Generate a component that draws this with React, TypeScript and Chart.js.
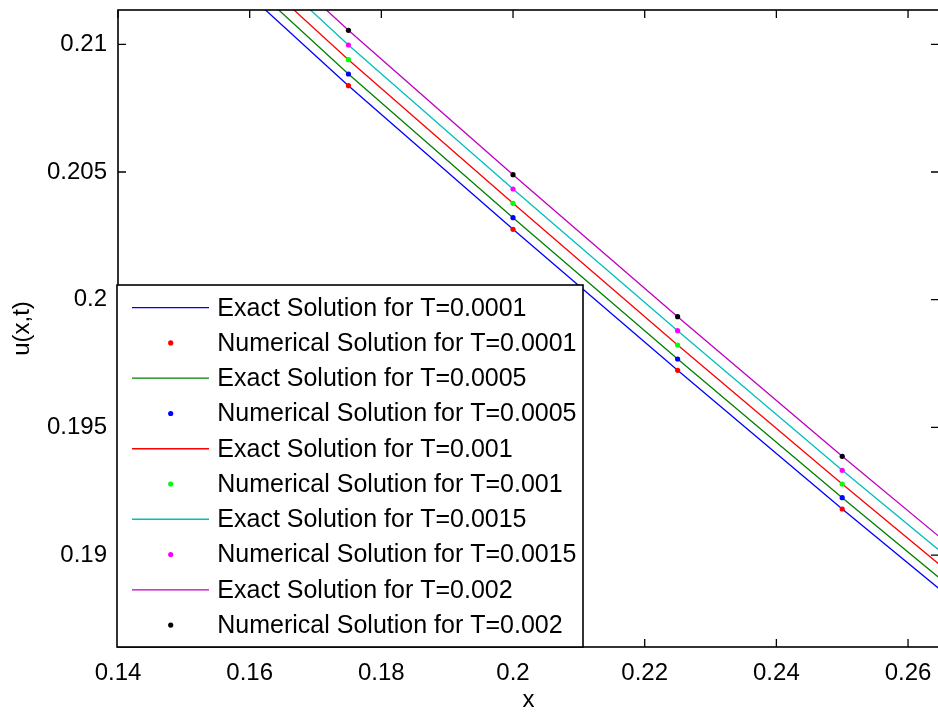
import React, { useEffect, useRef } from "react";
import { Chart, registerables } from "chart.js";

Chart.register(...registerables);

// ---- data ----
const exactX = [0.15, 0.175, 0.2, 0.225, 0.25, 0.275];
const numX = [0.175, 0.2, 0.225, 0.25];

const exactT0001 = [0.214263, 0.208379, 0.202756, 0.197236, 0.191805, 0.186509];
const exactT0005 = [0.214757, 0.208837, 0.20321, 0.197678, 0.192247, 0.186924];
const exactT001 = [0.215282, 0.209397, 0.203775, 0.198226, 0.192784, 0.187449];
const exactT0015 = [0.215919, 0.209973, 0.204334, 0.198786, 0.19332, 0.188009];
const exactT002 = [0.216484, 0.210548, 0.204894, 0.199334, 0.193868, 0.18853];

const numT0001 = [0.208379, 0.202756, 0.197236, 0.191805];
const numT0005 = [0.208837, 0.20321, 0.197678, 0.192247];
const numT001 = [0.209397, 0.203775, 0.198226, 0.192784];
const numT0015 = [0.209973, 0.204334, 0.198786, 0.19332];
const numT002 = [0.210548, 0.204894, 0.199334, 0.193868];

const xTicks = [0.14, 0.16, 0.18, 0.2, 0.22, 0.24, 0.26];
const yTicks = [0.19, 0.195, 0.2, 0.205, 0.21];

const labels = [
  "Exact Solution for T=0.0001",
  "Numerical Solution for T=0.0001",
  "Exact Solution for T=0.0005",
  "Numerical Solution for T=0.0005",
  "Exact Solution for T=0.001",
  "Numerical Solution for T=0.001",
  "Exact Solution for T=0.0015",
  "Numerical Solution for T=0.0015",
  "Exact Solution for T=0.002",
  "Numerical Solution for T=0.002",
];

const FONT = "'Liberation Sans', Arial, Helvetica, sans-serif";

function pts(xs: number[], ys: number[]) {
  return xs.map((x, i) => ({ x, y: ys[i] }));
}

export default function App() {
  const ref = useRef<HTMLCanvasElement | null>(null);

  useEffect(() => {
    document.documentElement.style.overflow = "hidden";
    document.body.style.margin = "0";
    document.body.style.overflow = "hidden";
    const canvas = ref.current!;

    const exactSeries = [
      { data: exactT0001, color: "#0000ff" },
      { data: exactT0005, color: "#008000" },
      { data: exactT001, color: "#ff0000" },
      { data: exactT0015, color: "#00bfbf" },
      { data: exactT002, color: "#bf00bf" },
    ];
    const numSeries = [
      { data: numT0001, color: "#ff0000" },
      { data: numT0005, color: "#0000ff" },
      { data: numT001, color: "#00ff00" },
      { data: numT0015, color: "#ff00ff" },
      { data: numT002, color: "#000000" },
    ];

    const datasets: any[] = [];
    for (let i = 0; i < 5; i++) {
      datasets.push({
        label: labels[2 * i],
        data: pts(exactX, exactSeries[i].data),
        borderColor: exactSeries[i].color,
        backgroundColor: exactSeries[i].color,
        borderWidth: 1.3,
        pointRadius: 0,
        showLine: true,
        order: 1,
      });
      datasets.push({
        label: labels[2 * i + 1],
        data: pts(numX, numSeries[i].data),
        borderColor: numSeries[i].color,
        backgroundColor: numSeries[i].color,
        pointRadius: 2.6,
        pointBorderWidth: 0,
        showLine: false,
        order: 0,
      });
    }

    const framePlugin = {
      id: "matlabFrame",
      afterDraw(chart: any) {
        const ctx = chart.ctx;
        const a = chart.chartArea;
        const xs = chart.scales.x;
        const ys = chart.scales.y;
        ctx.save();
        ctx.strokeStyle = "#000";
        ctx.lineWidth = 1.6;
        ctx.strokeRect(a.left, a.top, a.right - a.left, a.bottom - a.top);
        ctx.lineWidth = 1.3;
        const tl = 8;
        ctx.beginPath();
        for (const v of xTicks) {
          const px = xs.getPixelForValue(v);
          ctx.moveTo(px, a.bottom);
          ctx.lineTo(px, a.bottom - tl);
          ctx.moveTo(px, a.top);
          ctx.lineTo(px, a.top + tl);
        }
        for (const v of yTicks) {
          const py = ys.getPixelForValue(v);
          ctx.moveTo(a.left, py);
          ctx.lineTo(a.left + tl, py);
          ctx.moveTo(a.right, py);
          ctx.lineTo(a.right - tl, py);
        }
        ctx.stroke();

        // axis titles
        ctx.fillStyle = "#000";
        ctx.font = `24px ${FONT}`;
        ctx.textAlign = "center";
        ctx.textBaseline = "middle";
        ctx.fillText("x", (a.left + a.right) / 2, 700);
        ctx.save();
        ctx.translate(22, (a.top + a.bottom) / 2);
        ctx.rotate(-Math.PI / 2);
        ctx.fillText("u(x,t)", 0, 0);
        ctx.restore();

        // legend
        const L = 117, T = 285, R = 583, B = a.bottom;
        ctx.fillStyle = "#fff";
        ctx.fillRect(L, T, R - L, B - T);
        ctx.strokeStyle = "#000";
        ctx.lineWidth = 1.6;
        ctx.strokeRect(L, T, R - L, B - T);
        ctx.font = `25px ${FONT}`;
        ctx.textAlign = "left";
        ctx.textBaseline = "middle";
        const ds = chart.data.datasets;
        for (let i = 0; i < ds.length; i++) {
          const cy = 307.7 + i * 35.26;
          if (ds[i].showLine) {
            ctx.strokeStyle = ds[i].borderColor;
            ctx.lineWidth = 1.3;
            ctx.beginPath();
            ctx.moveTo(132, cy);
            ctx.lineTo(209, cy);
            ctx.stroke();
          } else {
            ctx.fillStyle = ds[i].backgroundColor;
            ctx.beginPath();
            ctx.arc(170.7, cy, 2.6, 0, Math.PI * 2);
            ctx.fill();
          }
          ctx.fillStyle = "#000";
          ctx.fillText(ds[i].label, 217.3, cy + 1);
        }
        ctx.restore();
      },
    };

    const chart = new Chart(canvas, {
      type: "scatter",
      data: { datasets },
      options: {
        responsive: false,
        animation: false,
        layout: { padding: { top: 10, right: 6, left: 0, bottom: 0 } },
        plugins: { legend: { display: false }, tooltip: { enabled: false } },
        scales: {
          x: {
            type: "linear",
            min: 0.14,
            max: 0.2647,
            grid: { display: false },
            border: { display: false },
            afterBuildTicks: (axis: any) => {
              axis.ticks = xTicks.map((v) => ({ value: v }));
            },
            afterFit: (scale: any) => {
              scale.height = 66;
              scale.paddingLeft = 0;
              scale.paddingRight = 0;
            },
            ticks: {
              color: "#000",
              font: { family: FONT, size: 24 },
              padding: 4,
              maxRotation: 0,
              autoSkip: false,
              callback: (v: any) => String(+Number(v).toFixed(4)),
            },
          },
          y: {
            type: "linear",
            min: 0.186402,
            max: 0.211343,
            grid: { display: false },
            border: { display: false },
            afterBuildTicks: (axis: any) => {
              axis.ticks = yTicks.map((v) => ({ value: v }));
            },
            afterFit: (scale: any) => {
              scale.width = 118;
              scale.paddingTop = 0;
              scale.paddingBottom = 0;
            },
            ticks: {
              color: "#000",
              font: { family: FONT, size: 24 },
              padding: 3,
              autoSkip: false,
              callback: (v: any) => String(+Number(v).toFixed(4)),
            },
          },
        },
      },
      plugins: [framePlugin],
    } as any);

    return () => chart.destroy();
  }, []);

  return (
    <div style={{ width: 945, height: 713 }}>
      <canvas ref={ref} width={945} height={713} style={{ display: "block", width: 945, height: 713 }} />
    </div>
  );
}
